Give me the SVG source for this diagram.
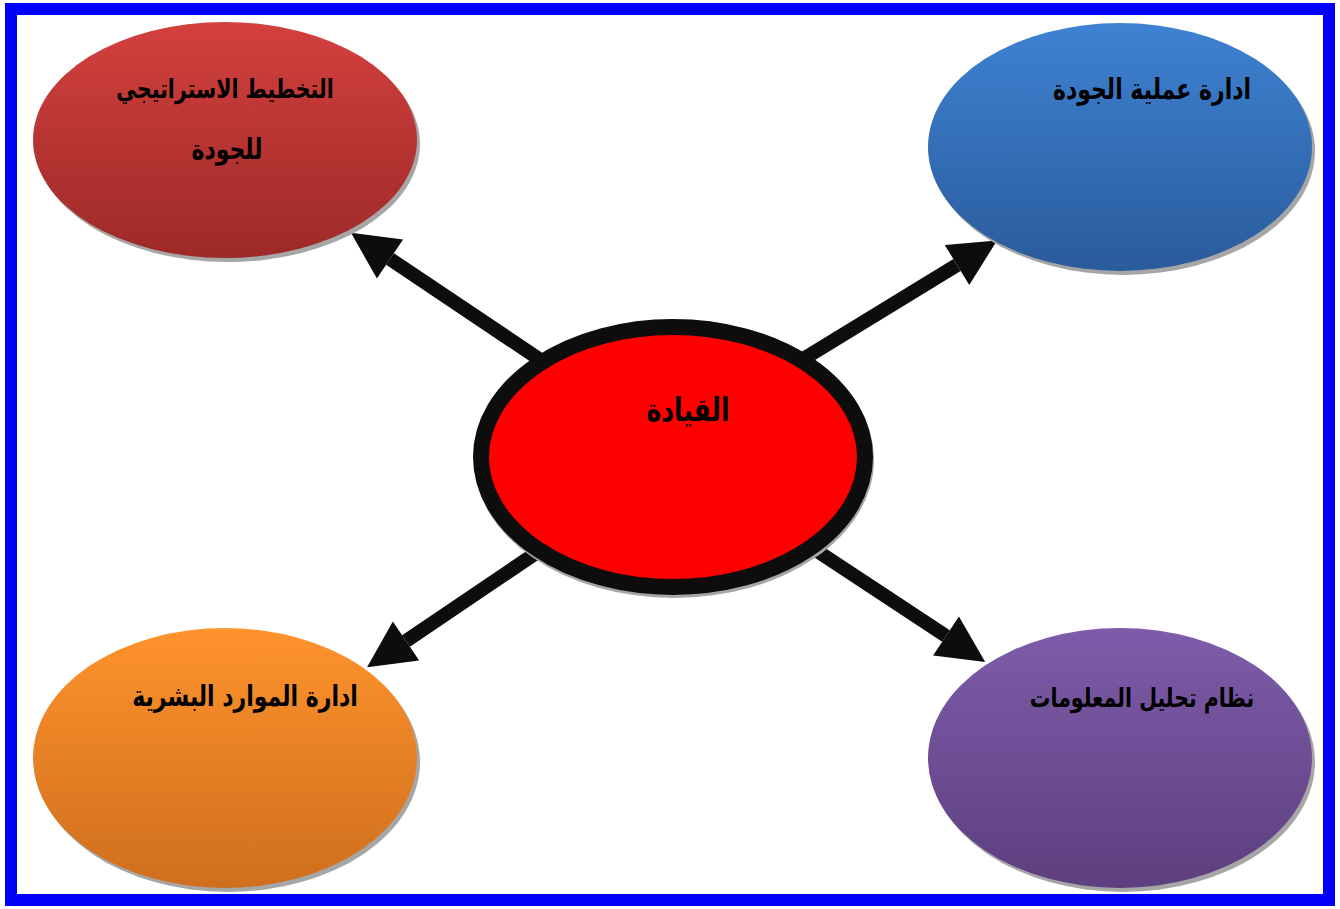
<svg xmlns="http://www.w3.org/2000/svg" width="1340" height="909" viewBox="0 0 1340 909">
<style>
.lbl{font-family:"DejaVu Sans","Noto Sans",sans-serif;font-weight:bold;font-size:22px;fill:#000;text-anchor:middle;direction:rtl}
.shadow{fill:#a6a6a6}
.arrow{stroke:#0d0d0d;stroke-width:14;fill:none;marker-end:url(#head)}
</style>
<defs>
<linearGradient id="gRed" x1="0" y1="0" x2="0" y2="1"><stop offset="0" stop-color="#d3403e"/><stop offset="1" stop-color="#9d2a28"/></linearGradient>
<linearGradient id="gBlue" x1="0" y1="0" x2="0" y2="1"><stop offset="0" stop-color="#3e82d2"/><stop offset="1" stop-color="#2a5b9c"/></linearGradient>
<linearGradient id="gOrange" x1="0" y1="0" x2="0" y2="1"><stop offset="0" stop-color="#ff932c"/><stop offset="1" stop-color="#cf6e1e"/></linearGradient>
<linearGradient id="gPurple" x1="0" y1="0" x2="0" y2="1"><stop offset="0" stop-color="#7e5caa"/><stop offset="1" stop-color="#5d3f7f"/></linearGradient>
<marker id="head" markerUnits="userSpaceOnUse" markerWidth="48" markerHeight="48" refX="0" refY="23.5" orient="auto" overflow="visible">
<path d="M0,0 L47,23.5 L0,47 z" fill="#0d0d0d"/>
</marker>
</defs>
<rect x="0" y="0" width="1340" height="909" fill="#fff"/>
<rect x="11" y="9" width="1318" height="891" fill="none" stroke="#0000ff" stroke-width="12"/>

<g id="connectors">
<line class="arrow" x1="545" y1="363" x2="390" y2="259"/>
<line class="arrow" x1="800" y1="361" x2="957" y2="265"/>
<line class="arrow" x1="545" y1="547" x2="406" y2="641"/>
<line class="arrow" x1="805" y1="543" x2="946" y2="636"/>
</g>

<g id="node-strategic">
<ellipse class="shadow" cx="228" cy="144" rx="192" ry="118"/>
<ellipse cx="225" cy="140" rx="192" ry="118" fill="url(#gRed)"/>
<text class="lbl" transform="translate(225,98) scale(1,1.3)" style="font-size:20.5px">التخطيط الاستراتيجي</text>
<text class="lbl" transform="translate(227,159) scale(1,1.3)">للجودة</text>
</g>

<g id="node-process">
<ellipse class="shadow" cx="1123" cy="151" rx="192" ry="124"/>
<ellipse cx="1120" cy="147" rx="192" ry="124" fill="url(#gBlue)"/>
<text class="lbl" transform="translate(1152,99) scale(1,1.3)">ادارة عملية الجودة</text>
</g>

<g id="node-hr">
<ellipse class="shadow" cx="228" cy="762" rx="192" ry="130"/>
<ellipse cx="225" cy="758" rx="192" ry="130" fill="url(#gOrange)"/>
<text class="lbl" transform="translate(245,706) scale(1,1.3)">ادارة الموارد البشرية</text>
</g>

<g id="node-info">
<ellipse class="shadow" cx="1123" cy="762" rx="192" ry="130"/>
<ellipse cx="1120" cy="758" rx="192" ry="130" fill="url(#gPurple)"/>
<text class="lbl" transform="translate(1142,707) scale(1,1.3)" style="font-size:20.5px">نظام تحليل المعلومات</text>
</g>

<g id="node-leadership">
<ellipse class="shadow" cx="674" cy="460" rx="200" ry="138"/>
<ellipse cx="673" cy="457" rx="192" ry="130" fill="#ff0000" stroke="#0d0d0d" stroke-width="16"/>
<text class="lbl" transform="translate(688,421) scale(1,1.3)" style="font-size:25px">القيادة</text>
</g>
</svg>
